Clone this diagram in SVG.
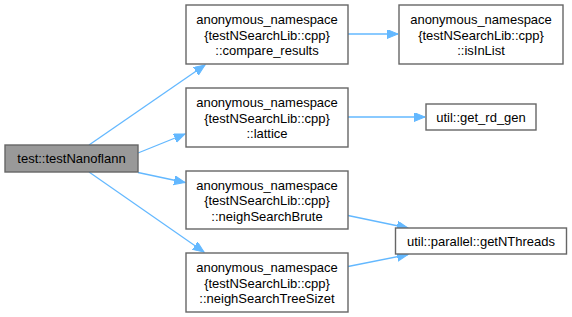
<svg xmlns="http://www.w3.org/2000/svg" width="572" height="317" viewBox="0 0 572 317">
  <defs>
    <marker id="arrow" markerUnits="userSpaceOnUse" markerWidth="12" markerHeight="10" refX="11" refY="4.5" orient="auto">
      <path d="M0,0 L11,4.5 L0,9 z" fill="#63b8ff" stroke="#63b8ff" stroke-width="1"/>
    </marker>
  </defs>
  <style>
    .node rect { fill: #ffffff; stroke: #666666; stroke-width: 1.4; }
    .node.root rect { fill: #999999; }
    .node text { font-family: "Liberation Sans", Arial, Helvetica, sans-serif; font-size: 13px; fill: #000000; text-anchor: middle; }
    .edges line { stroke: #63b8ff; stroke-width: 1.3; fill: none; marker-end: url(#arrow); }
  </style>
  <rect width="572" height="317" fill="#ffffff"/>

  <g class="edges" id="edges">
    <line x1="89" y1="145" x2="205" y2="65"/>
    <line x1="138" y1="153" x2="185" y2="134"/>
    <line x1="138" y1="172.5" x2="185" y2="182.5"/>
    <line x1="89" y1="172" x2="204" y2="252"/>
    <line x1="348" y1="34" x2="398" y2="34"/>
    <line x1="348" y1="117" x2="425" y2="117"/>
    <line x1="348" y1="215.5" x2="408" y2="228"/>
    <line x1="348" y1="266.5" x2="408" y2="254.5"/>
  </g>

  <g class="node root" id="node-testNanoflann">
    <rect x="5" y="145" width="133" height="27"/>
    <text x="71.5" y="163">test::testNanoflann</text>
  </g>

  <g class="node" id="node-compare_results">
    <rect x="186" y="5" width="162" height="59"/>
    <text x="267" y="24">anonymous_namespace</text>
    <text x="267" y="39.5">{testNSearchLib::cpp}</text>
    <text x="267" y="55">::compare_results</text>
  </g>

  <g class="node" id="node-isInList">
    <rect x="399" y="5" width="164" height="59"/>
    <text x="481" y="24">anonymous_namespace</text>
    <text x="481" y="39.5">{testNSearchLib::cpp}</text>
    <text x="481" y="55">::isInList</text>
  </g>

  <g class="node" id="node-lattice">
    <rect x="186" y="88" width="162" height="59"/>
    <text x="267" y="107">anonymous_namespace</text>
    <text x="267" y="122.5">{testNSearchLib::cpp}</text>
    <text x="267" y="138">::lattice</text>
  </g>

  <g class="node" id="node-get_rd_gen">
    <rect x="426" y="104" width="110" height="26"/>
    <text x="481" y="121.5">util::get_rd_gen</text>
  </g>

  <g class="node" id="node-neighSearchBrute">
    <rect x="186" y="171" width="162" height="58"/>
    <text x="267" y="189.5">anonymous_namespace</text>
    <text x="267" y="205">{testNSearchLib::cpp}</text>
    <text x="267" y="220.5">::neighSearchBrute</text>
  </g>

  <g class="node" id="node-neighSearchTreeSizet">
    <rect x="186" y="253" width="162" height="59"/>
    <text x="267" y="272">anonymous_namespace</text>
    <text x="267" y="287.5">{testNSearchLib::cpp}</text>
    <text x="267" y="303">::neighSearchTreeSizet</text>
  </g>

  <g class="node" id="node-getNThreads">
    <rect x="395.5" y="228" width="171" height="26"/>
    <text x="481" y="245.5">util::parallel::getNThreads</text>
  </g>
</svg>
